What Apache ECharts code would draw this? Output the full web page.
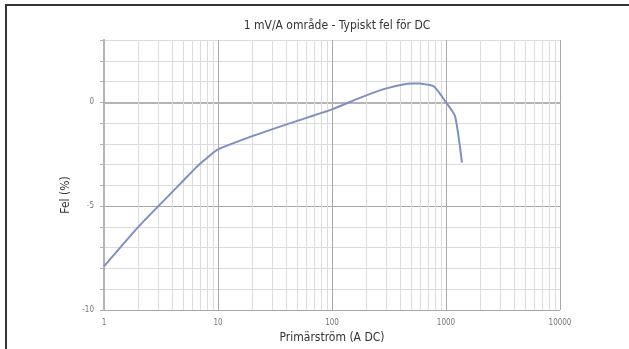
<!DOCTYPE html>
<html>
<head>
<meta charset="utf-8">
<script src="https://cdn.jsdelivr.net/npm/echarts@6/dist/echarts.min.js"></script>
<style>
  html, body { margin: 0; padding: 0; background: #fff; }
  #chart { width: 629px; height: 349px; }
</style>
</head>
<body>
<div id="chart"></div>
<script>
// Primary current (A DC) and typical error (%) for the 1 mV/A range
const current = [1, 2, 3, 4, 5, 6, 7, 8, 10, 20, 40, 100, 180, 300, 500, 600, 780, 1000, 1200, 1380];
const errorPct = [-7.9, -6.0, -5.0, -4.3, -3.75, -3.3, -2.95, -2.68, -2.27, -1.63, -1.06, -0.34, 0.24, 0.67, 0.91, 0.9, 0.77, 0.0, -0.67, -2.9];

// Axis tick labels
const xTicks = ['1', '10', '100', '1000', '10000'];
const yTicks = ['-10', '-5', '0'];

const FONT = "'Liberation Sans Narrow', 'DejaVu Sans Condensed', 'Liberation Sans', sans-serif";

// Minor vertical grid lines at 2..9 of each decade
const minorX = [];
for (let d = 1; d < 10000; d *= 10) {
  for (let m = 2; m <= 9; m++) minorX.push(d * m);
}

const chart = echarts.init(document.getElementById('chart'), null, { renderer: 'canvas' });

chart.setOption({
  backgroundColor: '#ffffff',
  animation: false,
  title: {
    text: '1 mV/A område - Typiskt fel för DC',
    left: 332,
    top: 15,
    textAlign: 'center',
    textStyle: { fontFamily: FONT, fontSize: 12, fontWeight: 'normal', color: '#333' }
  },
  grid: { left: 104, right: 69, top: 40, bottom: 38 },
  xAxis: {
    type: 'log',
    logBase: 10,
    min: 1,
    max: 10000,
    name: 'Primärström (A DC)',
    nameLocation: 'middle',
    nameGap: 22,
    nameTextStyle: { fontFamily: FONT, fontSize: 12, color: '#333' },
    axisLine: { show: true, lineStyle: { color: '#b4b4b4', width: 2 } },
    axisTick: { show: false },
    axisLabel: {
      margin: 9,
      fontFamily: FONT,
      fontSize: 8,
      color: '#777',
      formatter: v => xTicks.find(t => Number(t) === Math.round(v)) || ''
    },
    splitLine: { show: true, lineStyle: { color: '#a8a8a8', width: 1 } }
  },
  yAxis: {
    type: 'value',
    min: -10,
    max: 3,
    interval: 1,
    axisLine: { show: true, lineStyle: { color: '#b4b4b4', width: 2 } },
    axisTick: { show: true, length: 4, lineStyle: { color: '#b4b4b4' } },
    axisLabel: {
      margin: 10,
      fontFamily: FONT,
      fontSize: 8,
      color: '#777',
      formatter: v => (yTicks.indexOf(String(v)) >= 0 ? String(v) : '')
    },
    splitLine: {
      show: true,
      lineStyle: { color: ['#a8a8a8', '#dcdcdc', '#dcdcdc', '#dcdcdc', '#dcdcdc'], width: 1 }
    }
  },
  graphic: [
    { type: 'line', shape: { x1: 5, y1: 5, x2: 629, y2: 5 }, style: { stroke: '#333', lineWidth: 2 } },
    { type: 'line', shape: { x1: 6, y1: 5, x2: 6, y2: 349 }, style: { stroke: '#333', lineWidth: 2 } },
    {
      type: 'text',
      x: 66,
      y: 195,
      rotation: Math.PI / 2,
      style: {
        text: 'Fel (%)',
        font: '12px ' + FONT,
        fill: '#333',
        textAlign: 'center',
        textVerticalAlign: 'middle'
      }
    }
  ],
  series: [
    {
      type: 'line',
      data: current.map((c, i) => [c, errorPct[i]]),
      smooth: 0.2,
      showSymbol: false,
      lineStyle: { color: '#7f8fc4', width: 2 },
      z: 5,
      markLine: {
        silent: true,
        symbol: 'none',
        label: { show: false },
        lineStyle: { color: '#dcdcdc', width: 1, type: 'solid' },
        data: minorX.map(v => ({ xAxis: v }))
      }
    }
  ]
});
</script>
</body>
</html>
